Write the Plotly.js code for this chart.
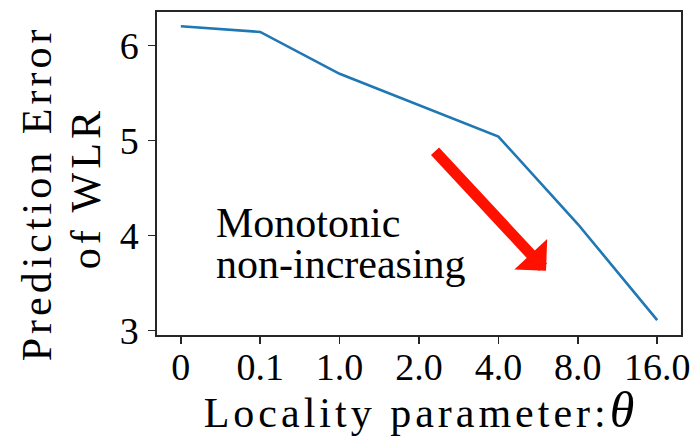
<!DOCTYPE html>
<html>
<head>
<meta charset="utf-8">
<script src="https://cdn.plot.ly/plotly-3.0.1.min.js"></script>
<style>
  html, body { margin: 0; padding: 0; background: #ffffff; }
  #chart { width: 695px; height: 438px; }
</style>
</head>
<body>
<div id="chart"></div>
<script>
// Locality parameter values (shown as evenly spaced categories)
const thetaLabels = ['0', '0.1', '1.0', '2.0', '4.0', '8.0', '16.0'];
// Prediction error of WLR for each locality parameter
const wlrError = [6.20, 6.14, 5.70, 5.37, 5.04, 4.12, 3.11];
// Y axis ticks
const yTicks = [3, 4, 5, 6];

const SERIF = 'Liberation Serif, Times New Roman, serif';
const AXIS_COLOR = '#262626';
const spaced = s => '<span style="letter-spacing:4px">' + s + '</span>';

const trace = {
  type: 'scatter',
  mode: 'lines',
  x: thetaLabels,
  y: wlrError,
  line: { color: '#1f77b4', width: 2.6 },
  hoverinfo: 'x+y'
};

const layout = {
  width: 695,
  height: 438,
  margin: { l: 157, r: 14, t: 12, b: 103 },
  paper_bgcolor: '#ffffff',
  plot_bgcolor: '#ffffff',
  showlegend: false,
  xaxis: {
    type: 'category',
    range: [-0.3, 6.3],
    tickvals: thetaLabels,
    ticktext: thetaLabels,
    ticks: 'outside',
    ticklen: 7,
    tickwidth: 1.5,
    tickcolor: AXIS_COLOR,
    ticklabelstandoff: -9,
    showline: true,
    linecolor: AXIS_COLOR,
    linewidth: 1.6,
    mirror: true,
    showgrid: false,
    zeroline: false,
    tickfont: { family: SERIF, size: 38, color: '#000000' },
    title: {
      text: spaced('Locality parameter:') + '<span style="font-size:50px"><i>θ</i></span>',
      font: { family: SERIF, size: 42, color: '#000000' },
      standoff: 18
    }
  },
  yaxis: {
    range: [2.953, 6.35],
    tickvals: yTicks,
    ticktext: yTicks.map(String),
    ticks: 'outside',
    ticklen: 7,
    tickwidth: 1.5,
    tickcolor: AXIS_COLOR,
    ticklabelstandoff: 2,
    showline: true,
    linecolor: AXIS_COLOR,
    linewidth: 1.6,
    mirror: true,
    showgrid: false,
    zeroline: false,
    tickfont: { family: SERIF, size: 38, color: '#000000' }
  },
  annotations: [
    // Two-line y axis title, set as rotated lines for tight spacing
    {
      xref: 'paper', yref: 'paper',
      x: -0.230, y: 0.440,
      xanchor: 'center', yanchor: 'middle',
      textangle: -90,
      showarrow: false,
      text: spaced('Prediction Error'),
      font: { family: SERIF, size: 42, color: '#000000' }
    },
    {
      xref: 'paper', yref: 'paper',
      x: -0.134, y: 0.454,
      xanchor: 'center', yanchor: 'middle',
      textangle: -90,
      showarrow: false,
      text: spaced('of WLR'),
      font: { family: SERIF, size: 42, color: '#000000' }
    },
    // Trend note
    {
      xref: 'x', yref: 'y',
      x: 0.42, y: 4.13,
      xanchor: 'left', yanchor: 'middle',
      showarrow: false,
      text: 'Monotonic',
      font: { family: SERIF, size: 42, color: '#000000' }
    },
    {
      xref: 'x', yref: 'y',
      x: 0.42, y: 3.695,
      xanchor: 'left', yanchor: 'middle',
      showarrow: false,
      text: 'non-increasing',
      font: { family: SERIF, size: 42, color: '#000000' }
    },
    // Downward trend arrow
    {
      xref: 'x', yref: 'y',
      axref: 'x', ayref: 'y',
      x: 4.60, y: 3.63,
      ax: 3.184, ay: 4.90,
      text: '',
      showarrow: true,
      arrowhead: 1,
      arrowsize: 0.68,
      arrowwidth: 11,
      arrowcolor: '#ff1100'
    }
  ]
};

Plotly.newPlot('chart', [trace], layout, { staticPlot: true, displayModeBar: false });
</script>
</body>
</html>
